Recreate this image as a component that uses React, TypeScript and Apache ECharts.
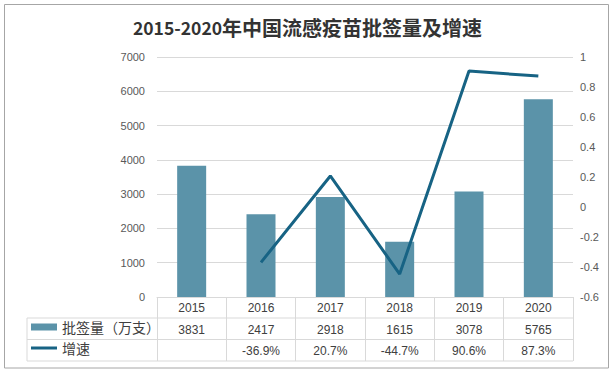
import React, { useEffect, useRef } from "react";
import * as echarts from "echarts";

const categories = ["2015", "2016", "2017", "2018", "2019", "2020"];
const batchValues = [3831, 2417, 2918, 1615, 3078, 5765];
const growthValues: (number | null)[] = [null, -0.369, 0.207, -0.447, 0.906, 0.873];
const leftTicks = { min: 0, max: 7000, interval: 1000 };
const rightTicks = { min: -0.6, max: 1, interval: 0.2 };
const seriesNames = ["批签量（万支）", "增速"];
const titleParts = ["2015-2020", "年中国流感疫苗批签量及增速"];

const BAR = "#5b93a9";
const LINE = "#176384";
const GRID = "#d9d9d9";
const NUM_FONT = "'Liberation Sans', Arial, sans-serif";
const CJK_FONT = "'Noto Sans CJK SC', sans-serif";

export default function App() {
  const ref = useRef<HTMLDivElement>(null);
  useEffect(() => {
    if (!ref.current) return;
    const chart = echarts.init(ref.current, null, { renderer: "svg" });
    const growthLabels = growthValues.map((v) => (v == null ? "" : (v * 100).toFixed(1) + "%"));
    const tableLabel = {
      color: "#404040",
      fontSize: 12,
      fontFamily: NUM_FONT,
      interval: 0,
      margin: 5,
    };
    const legendText = { fontSize: 14, color: "#404040", fontFamily: CJK_FONT };
    chart.setOption({
      animation: false,
      title: {
        text: `{a|${titleParts[0]}}{b|${titleParts[1]}}`,
        left: "center",
        top: 17,
        padding: 0,
        textStyle: {
          rich: {
            a: { fontSize: 17.5, fontWeight: "bold", color: "#333333", fontFamily: CJK_FONT },
            b: { fontSize: 20, fontWeight: "bold", color: "#333333", fontFamily: CJK_FONT },
          },
        },
      },
      grid: { left: 157, right: 42, top: 57, bottom: 80 },
      legend: [
        {
          data: [{ name: seriesNames[0], icon: "rect" }],
          left: 31,
          top: 320,
          padding: 0,
          itemWidth: 26,
          itemHeight: 7,
          textStyle: legendText,
        },
        {
          data: [{ name: seriesNames[1], icon: "rect" }],
          left: 31,
          top: 341,
          padding: 0,
          itemWidth: 26,
          itemHeight: 3,
          textStyle: legendText,
        },
      ],
      xAxis: [
        {
          type: "category",
          data: categories,
          position: "bottom",
          axisLine: { lineStyle: { color: GRID } },
          axisTick: { show: true, length: 64, lineStyle: { color: GRID } },
          axisLabel: { ...tableLabel },
        },
        {
          type: "category",
          data: batchValues.map(String),
          position: "bottom",
          offset: 21.5,
          axisLine: { show: false },
          axisTick: { show: false },
          axisLabel: { ...tableLabel },
        },
        {
          type: "category",
          data: growthLabels,
          position: "bottom",
          offset: 43,
          axisLine: { show: false },
          axisTick: { show: false },
          axisLabel: { ...tableLabel },
        },
      ],
      yAxis: [
        {
          type: "value",
          ...leftTicks,
          axisLine: { show: false },
          axisTick: { show: false },
          splitLine: { lineStyle: { color: GRID } },
          axisLabel: {
            color: "#595959",
            fontSize: 11,
            fontFamily: NUM_FONT,
            margin: 12,
            formatter: (v: number) => String(v),
          },
        },
        {
          type: "value",
          ...rightTicks,
          position: "right",
          axisLine: { show: false },
          axisTick: { show: false },
          splitLine: { show: false },
          axisLabel: {
            color: "#595959",
            fontSize: 11,
            fontFamily: NUM_FONT,
            margin: 7,
            formatter: (v: number) => String(Math.round(v * 10) / 10),
          },
        },
      ],
      series: [
        {
          name: seriesNames[0],
          type: "bar",
          data: batchValues,
          barWidth: 29,
          itemStyle: { color: BAR },
          xAxisIndex: 0,
          yAxisIndex: 0,
        },
        {
          name: seriesNames[1],
          type: "line",
          data: growthValues,
          yAxisIndex: 1,
          xAxisIndex: 0,
          symbol: "none",
          lineStyle: { color: LINE, width: 3 },
          itemStyle: { color: LINE },
        },
      ],
      graphic: [
        {
          type: "rect",
          shape: { x: 4.5, y: 4.5, width: 604, height: 363.5 },
          style: { fill: "none", stroke: "#a6a6a6", lineWidth: 1 },
          silent: true,
        },
        { type: "line", shape: { x1: 27, y1: 318, x2: 573, y2: 318 }, style: { stroke: GRID, lineWidth: 1 } },
        { type: "line", shape: { x1: 27, y1: 339.5, x2: 573, y2: 339.5 }, style: { stroke: GRID, lineWidth: 1 } },
        { type: "line", shape: { x1: 27, y1: 361, x2: 573, y2: 361 }, style: { stroke: GRID, lineWidth: 1 } },
        { type: "line", shape: { x1: 27, y1: 318, x2: 27, y2: 361 }, style: { stroke: GRID, lineWidth: 1 } },
      ],
    });
    return () => chart.dispose();
  }, []);
  return (
    <div
      ref={ref}
      style={{ position: "absolute", left: 0, top: 0, width: 615, height: 377, background: "#ffffff" }}
    />
  );
}
